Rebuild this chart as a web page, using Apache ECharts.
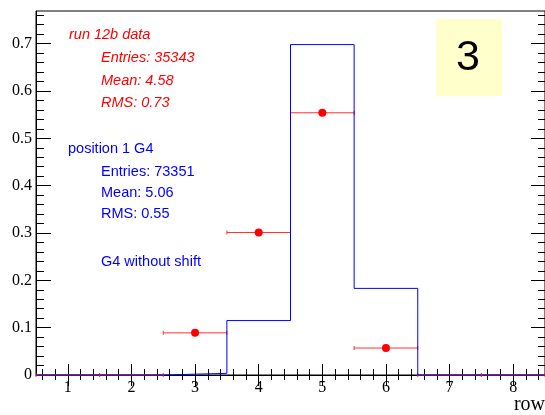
<!DOCTYPE html>
<html>
<head>
<meta charset="utf-8">
<script src="https://cdn.jsdelivr.net/npm/echarts@6/dist/echarts.min.js"></script>
<style>
html,body{margin:0;padding:0;background:#fff;}
#c{width:545px;height:415px;}
</style>
</head>
<body>
<div id="c"></div>
<script>
// ---- data ----
var binCenters = [1, 2, 3, 4, 5, 6, 7, 8];
var dataValues = [0, 0, 0.089, 0.301, 0.554, 0.057, 0, 0];      // run 12b data (red points)
var simValues  = [0, 0, 0.0035, 0.115, 0.698, 0.183, 0, 0];    // position 1 G4 (blue histogram)
var xTickLabels = [1, 2, 3, 4, 5, 6, 7, 8];
var yTickLabels = [0, 0.1, 0.2, 0.3, 0.4, 0.5, 0.6, 0.7];
var binHalfWidth = 0.5;

// minor tick positions
var xMinor = [];
for (var i = 3; i <= 42; i++) { xMinor.push(Math.round(i * 0.2 * 100) / 100); }
var yMinor = [];
for (var j = 1; j <= 38; j++) { yMinor.push(Math.round(j * 0.02 * 100) / 100); }

// blue histogram as step line through bin edges
var simLine = [];
for (var k = 0; k < binCenters.length; k++) {
  simLine.push([binCenters[k] - binHalfWidth, simValues[k]]);
}
simLine.push([binCenters[binCenters.length - 1] + binHalfWidth, simValues[simValues.length - 1]]);

var redPts = binCenters.map(function (c, i) { return [c, dataValues[i]]; });

var XMIN = 0.5, XMAX = 8.5, YMIN = 0, YMAX = 0.769;
var serif = '"Liberation Serif", "Times New Roman", serif';
var sans = '"Liberation Sans", Arial, Helvetica, sans-serif';

function xAx(pos, ticks, len, labels) {
  return {
    type: 'value', position: pos, min: XMIN, max: XMAX, gridIndex: 0,
    axisLine: { show: labels, lineStyle: { color: '#000', width: 1 } },
    axisTick: { show: true, inside: true, length: len, customValues: ticks, lineStyle: { color: '#000', width: 1 } },
    axisLabel: labels ? { show: true, customValues: xTickLabels, color: '#000', fontFamily: serif, fontSize: 16, margin: 5 } : { show: false },
    splitLine: { show: false }
  };
}
function yAx(pos, ticks, len, labels) {
  return {
    type: 'value', position: pos, min: YMIN, max: YMAX, gridIndex: 0,
    axisLine: { show: labels, lineStyle: { color: '#000', width: 1 } },
    axisTick: { show: true, inside: true, length: len, customValues: ticks, lineStyle: { color: '#000', width: 1 } },
    axisLabel: labels ? { show: true, customValues: yTickLabels, color: '#000', fontFamily: serif, fontSize: 16, margin: 4,
      formatter: function (v) { return String(Math.round(v * 10) / 10); } } : { show: false },
    splitLine: { show: false }
  };
}

var chart = echarts.init(document.getElementById('c'), null, { renderer: 'canvas' });
var option = {
  animation: false,
  backgroundColor: '#fff',
  grid: { left: 36, top: 11, width: 510, height: 364, show: true, borderColor: '#000', borderWidth: 1, containLabel: false },
  xAxis: [
    xAx('bottom', xTickLabels, 11, true),
    xAx('bottom', xMinor, 6, false),
    xAx('top', xTickLabels, 11, false),
    xAx('top', xMinor, 5, false)
  ],
  yAxis: [
    yAx('left', yTickLabels, 15, true),
    yAx('left', yMinor, 8, false),
    yAx('right', yTickLabels, 14, false),
    yAx('right', yMinor, 7, false)
  ],
  series: [
    {
      type: 'custom',
      xAxisIndex: 0, yAxisIndex: 0,
      data: redPts,
      encode: { x: 0, y: 1 },
      z: 2,
      renderItem: function (params, api) {
        var c = api.value(0), v = api.value(1);
        var pL = api.coord([c - binHalfWidth, v]);
        var pR = api.coord([c + binHalfWidth, v]);
        var pC = api.coord([c, v]);
        var st = { stroke: '#ff3030', lineWidth: 1 };
        var children = [
          { type: 'line', shape: { x1: pL[0], y1: pL[1], x2: pR[0], y2: pR[1] }, style: st },
          { type: 'line', shape: { x1: pL[0], y1: pL[1] - 2, x2: pL[0], y2: pL[1] + 2 }, style: st },
          { type: 'line', shape: { x1: pR[0], y1: pR[1] - 2, x2: pR[0], y2: pR[1] + 2 }, style: st }
        ];
        if (v > 0) {
          children.push({ type: 'circle', shape: { cx: pC[0], cy: pC[1], r: 4 }, style: { fill: '#ff0000' } });
        }
        return { type: 'group', children: children };
      }
    },
    {
      type: 'line',
      xAxisIndex: 0, yAxisIndex: 0,
      data: simLine,
      step: 'end',
      showSymbol: false,
      symbol: 'none',
      z: 3,
      lineStyle: { color: '#0000ff', width: 1 }
    }
  ],
  graphic: [
    { type: 'rect', shape: { x: 436, y: 19, width: 66, height: 77 }, style: { fill: '#ffffcc' }, z: 1 },
    { type: 'text', style: { text: '3', x: 468, y: 58, fill: '#000', font: '43px ' + sans, textAlign: 'center', textVerticalAlign: 'middle' }, z: 5 },

    { type: 'text', style: { text: 'run 12b data', x: 69, y: 35, fill: '#ff0000', font: 'italic 14.5px ' + sans, textVerticalAlign: 'middle' } },
    { type: 'text', style: { text: 'Entries: 35343', x: 101, y: 58, fill: '#ff0000', font: 'italic 14.5px ' + sans, textVerticalAlign: 'middle' } },
    { type: 'text', style: { text: 'Mean: 4.58', x: 101, y: 80.5, fill: '#ff0000', font: 'italic 14.5px ' + sans, textVerticalAlign: 'middle' } },
    { type: 'text', style: { text: 'RMS: 0.73', x: 101, y: 102.5, fill: '#ff0000', font: 'italic 14.5px ' + sans, textVerticalAlign: 'middle' } },

    { type: 'text', style: { text: 'position 1 G4', x: 68, y: 149, fill: '#0000ff', font: '14.5px ' + sans, textVerticalAlign: 'middle' } },
    { type: 'text', style: { text: 'Entries: 73351', x: 101, y: 171.5, fill: '#0000ff', font: '14.5px ' + sans, textVerticalAlign: 'middle' } },
    { type: 'text', style: { text: 'Mean: 5.06', x: 101, y: 193.3, fill: '#0000ff', font: '14.5px ' + sans, textVerticalAlign: 'middle' } },
    { type: 'text', style: { text: 'RMS: 0.55', x: 101, y: 214.3, fill: '#0000ff', font: '14.5px ' + sans, textVerticalAlign: 'middle' } },
    { type: 'text', style: { text: 'G4 without shift', x: 101, y: 261.7, fill: '#0000ff', font: '14.5px ' + sans, textVerticalAlign: 'middle' } },

    { type: 'text', style: { text: 'row', x: 545, y: 405, fill: '#000', font: '20px ' + serif, textAlign: 'right', textVerticalAlign: 'middle' } }
  ]
};
chart.setOption(option);
</script>
</body>
</html>
